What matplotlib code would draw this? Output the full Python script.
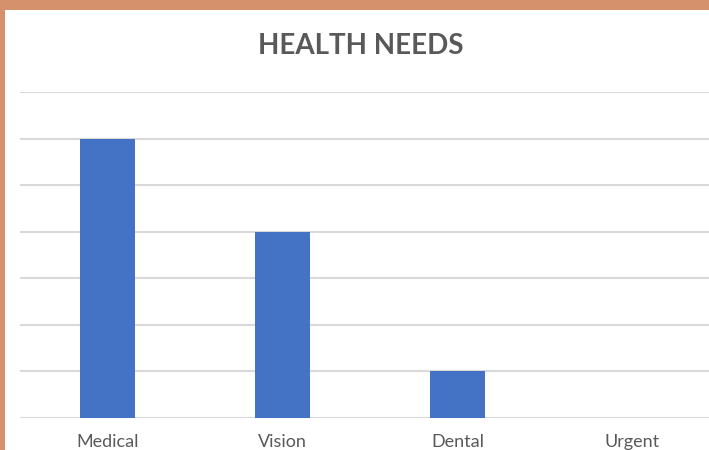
import matplotlib
matplotlib.use('Agg')
import matplotlib.pyplot as plt
import matplotlib.patches as mpatches

categories = ['Medical', 'Vision', 'Dental', 'Urgent']
values = [6, 4, 1, 0]

plt.rcParams['font.family'] = ['Lato', 'DejaVu Sans']

fig = plt.figure(figsize=(7.09, 4.5), dpi=100)
fig.patch.set_facecolor('white')

# orange frame (top and left edges only, picture is cropped)
fig.patches.append(mpatches.Rectangle((0, 1 - 10 / 450), 1, 10 / 450, transform=fig.transFigure,
                                      facecolor='#D4916B', edgecolor='none', zorder=5))
fig.patches.append(mpatches.Rectangle((0, 0), 5 / 709, 1, transform=fig.transFigure,
                                      facecolor='#D4916B', edgecolor='none', zorder=5))

# axes extends past the right edge like the original
ax = fig.add_axes([20 / 709, 1 - 418 / 450, 700 / 709, (418 - 92) / 450])
x = range(len(categories))
ax.bar(x, values, width=0.315, color='#4472C4', zorder=3)

ax.set_xlim(-0.5, len(categories) - 0.5)
ax.set_ylim(0, 7)
ax.set_yticks(range(0, 8))
ax.yaxis.grid(True, color='#D9D9D9', linewidth=1.5, zorder=0)
ax.tick_params(axis='y', left=False, labelleft=False)
ax.tick_params(axis='x', bottom=False, labelsize=13, labelcolor='#595959', pad=8)
ax.set_xticks(list(x))
ax.set_xticklabels(categories)
for s in ax.spines.values():
    s.set_visible(False)

fig.text(361 / 709, 1 - 46 / 450, 'HEALTH NEEDS', ha='center', va='center',
         fontsize=20, fontweight='bold', color='#595959')

fig.savefig('out.png', dpi=100)
